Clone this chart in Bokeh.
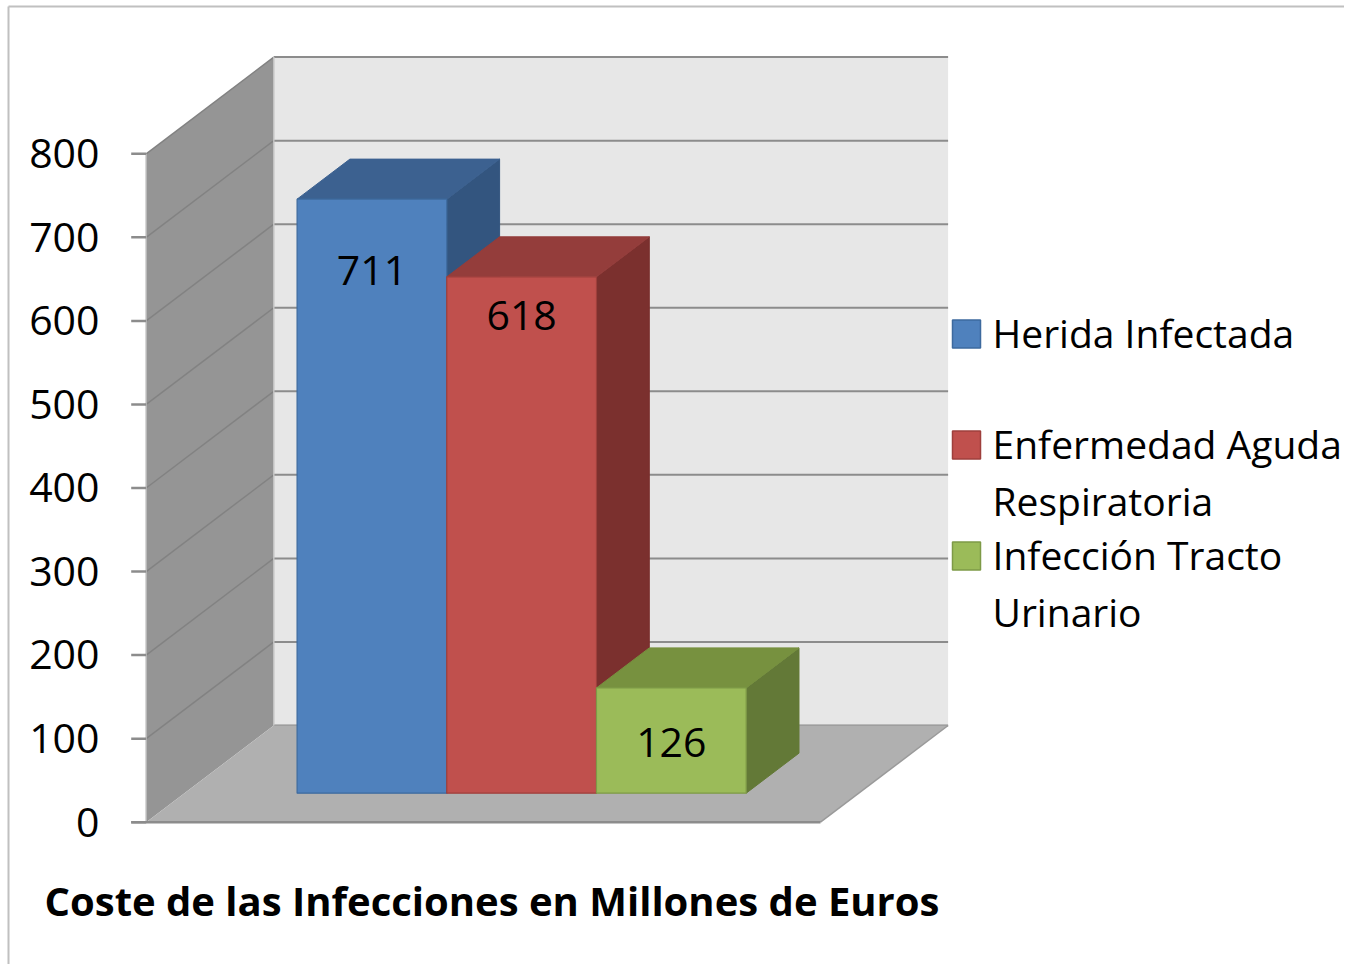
from bokeh.plotting import figure
from bokeh.models import Range1d
from bokeh.embed import file_html
from bokeh.resources import INLINE
from bokeh.core.properties import value

# ---------------- data ----------------
categories = ["Herida Infectada", "Enfermedad Aguda Respiratoria", "Infección Tracto Urinario"]
values = [711, 618, 126]
legend_lines = [["Herida Infectada"], ["Enfermedad Aguda", "Respiratoria"], ["Infección Tracto", "Urinario"]]
tick_values = [0, 100, 200, 300, 400, 500, 600, 700, 800]
tick_labels = ["0", "100", "200", "300", "400", "500", "600", "700", "800"]
axis_title = "Coste de las Infecciones en Millones de Euros"

# ---------------- styles ----------------
front_colors = ["#4f81bd", "#c0504d", "#9bbb59"]
top_colors = ["#3c6190", "#943d3b", "#77913f"]
side_colors = ["#33557f", "#7b302e", "#637937"]
edge_colors = ["#3d6a9e", "#9e3f3c", "#7e9a47"]
label_drop_px = [87, 54, 70]   # data label baseline below bar top (px)
FONT = "Open Sans"
BASE_FIX = 0.37                # rendered baseline sits this many em lower

W, H = 1344, 964
X0, X1 = 145.7, 820.0          # front plane horizontal extent (px)
Y0 = 821.7                     # px y of value 0 on the front plane
VMAX = 800
K = (Y0 - 153.3) / VMAX        # px per unit
DX, DY = 127.6, 96.7           # depth vector (px)
Z_BAR_F, Z_BAR_B = 0.30, 0.714 # bar depth extent
BAR_FRAC = 0.222               # bar width as share of category width
CAT_W = X1 - X0
GAP = (1 - 3 * BAR_FRAC) / 2


def sy2v(sy):
    return (Y0 - sy) / K


def P(x, v, z):
    return x + z * DX, v + z * DY / K


def poly(pts):
    xs, ys = zip(*[P(*pt) for pt in pts])
    return list(xs), list(ys)


def txt(x, sy_base, text, size, **kw):
    # place text so its visual baseline lands at page y sy_base
    ys = [sy2v(b - BASE_FIX * size) for b in sy_base]
    p.text(x=x, y=ys, text=text, text_font=value(FONT), text_font_size=f"{size}px",
           text_color="black", text_baseline="alphabetic", **kw)


p = figure(width=W, height=H,
           x_range=Range1d(0, W), y_range=Range1d(sy2v(H), sy2v(0)),
           x_axis_type=None, y_axis_type=None,
           output_backend="svg", toolbar_location=None,
           min_border=0, outline_line_color=None,
           background_fill_color="white", border_fill_color="white")

# outer chart border (top and left edges visible)
p.line([8, W], [sy2v(6)] * 2, line_color="#c0c0c0", line_width=2)
p.line([8, 8], [sy2v(6), sy2v(H)], line_color="#c0c0c0", line_width=2)

# back wall
bx, by = poly([(X0, 0, 1), (X1, 0, 1), (X1, VMAX, 1), (X0, VMAX, 1)])
p.patch(bx, by, fill_color="#e7e7e7", line_color=None)
for t in tick_values:
    gx, gy = poly([(X0, t, 1), (X1, t, 1)])
    p.line(gx, gy, line_color="#8c8c8c", line_width=2)

# left wall
lx, ly = poly([(X0, 0, 0), (X0, 0, 1), (X0, VMAX, 1), (X0, VMAX, 0)])
p.patch(lx, ly, fill_color="#959595", line_color=None)
for t in tick_values[1:]:
    dx_, dy_ = poly([(X0, t, 0), (X0, t, 1)])
    p.line(dx_, dy_, line_color="#828282", line_width=1.5)
ex, ey = poly([(X0, 0, 1), (X0, VMAX, 1)])
p.line(ex, ey, line_color="#c4c4c4", line_width=1.5)

# floor
fx, fy = poly([(X0, 0, 0), (X1, 0, 0), (X1, 0, 1), (X0, 0, 1)])
p.patch(fx, fy, fill_color="#b0b0b0", line_color=None)
rx, ry = poly([(X1, 0, 0), (X1, 0, 1)])
p.line(rx, ry, line_color="#9a9a9a", line_width=1.5)

# front edges and ticks
vx, vy = poly([(X0, 0, 0), (X0, VMAX, 0)])
p.line(vx, vy, line_color="#b9b9b9", line_width=1.5)
p.line([X0 - 15, X1], [0, 0], line_color="#8c8c8c", line_width=2.5)
p.segment(x0=[X0 - 15] * len(tick_values), y0=tick_values,
          x1=[X0] * len(tick_values), y1=tick_values,
          line_color="#8c8c8c", line_width=2.5)

# tick labels (visual baseline ~15px below tick)
txt([99] * len(tick_values), [Y0 - K * t + 15 for t in tick_values], tick_labels, 41,
    text_align="right")

# bars
for i, v in enumerate(values):
    xl = X0 + CAT_W * (GAP + i * BAR_FRAC)
    xr = xl + CAT_W * BAR_FRAC
    sx, sy_ = poly([(xr, 0, Z_BAR_F), (xr, v, Z_BAR_F), (xr, v, Z_BAR_B), (xr, 0, Z_BAR_B)])
    p.patch(sx, sy_, fill_color=side_colors[i], line_color=side_colors[i], line_width=1)
    tx, ty = poly([(xl, v, Z_BAR_F), (xr, v, Z_BAR_F), (xr, v, Z_BAR_B), (xl, v, Z_BAR_B)])
    p.patch(tx, ty, fill_color=top_colors[i], line_color=top_colors[i], line_width=1)
    qx, qy = poly([(xl, 0, Z_BAR_F), (xr, 0, Z_BAR_F), (xr, v, Z_BAR_F), (xl, v, Z_BAR_F)])
    p.patch(qx, qy, fill_color=front_colors[i], line_color=edge_colors[i], line_width=1.2)
    lxx, lyy = P((xl + xr) / 2, v - label_drop_px[i] / K, Z_BAR_F)
    txt([lxx], [Y0 - K * lyy], [str(v)], 41, text_align="center")

# legend
LEG_X = 952
LEG_SQ = 28
LEG_Y = 333.5
LEG_STEP = 111
LINE_STEP = 57
for i, lines in enumerate(legend_lines):
    cy = LEG_Y + LEG_STEP * i
    p.quad(left=[LEG_X], right=[LEG_X + LEG_SQ], top=[sy2v(cy - LEG_SQ / 2)], bottom=[sy2v(cy + LEG_SQ / 2)],
           fill_color=front_colors[i], line_color=edge_colors[i], line_width=1.5)
    txt([992] * len(lines), [cy + 13 + LINE_STEP * j for j in range(len(lines))], lines, 39,
        text_align="left")

# axis title
txt([44], [915], [axis_title], 40, text_align="left", text_font_style="bold")

open("out.html", "w").write(file_html(p, INLINE))
